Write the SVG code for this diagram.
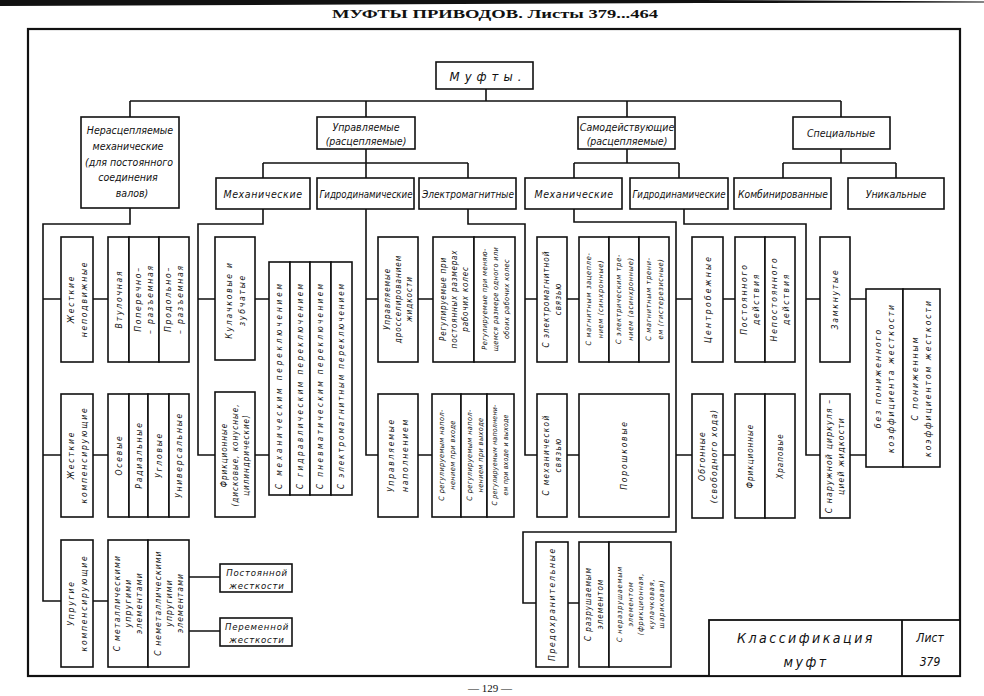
<svg xmlns="http://www.w3.org/2000/svg" width="984" height="696" viewBox="0 0 984 696">
<style>
text{font-family:"DejaVu Sans Condensed","DejaVu Sans",sans-serif;font-stretch:condensed;font-style:italic;fill:#111}
.b{fill:#fff;stroke:#111;stroke-width:1.6}
.c{fill:none;stroke:#111;stroke-width:1.6}
.h{font-size:10.5px;text-anchor:middle;dominant-baseline:central}
.v{font-size:8.5px;letter-spacing:1.8px;text-anchor:middle;dominant-baseline:central}
.v2{font-size:8px;letter-spacing:1px;text-anchor:middle;dominant-baseline:central}
.s{font-size:7.3px;letter-spacing:.4px;text-anchor:middle;dominant-baseline:central}
.hdr{font-family:"Liberation Serif",serif;font-style:normal;font-weight:bold;font-size:13px;text-anchor:middle}
</style>
<rect width="984" height="696" fill="#fff"/>
<polygon points="0,0 700,0 984,1.5 984,2.5 700,3 0,6" fill="#111"/>
<text class="hdr" x="495" y="18" textLength="326" lengthAdjust="spacingAndGlyphs">МУФТЫ  ПРИВОДОВ. Листы 379...464</text>
<rect x="28" y="29" width="932" height="647" fill="none" stroke="#111" stroke-width="2.2"/>
<text class="hdr" x="490" y="692" style="font-weight:normal;font-size:11px">— 129 —</text>

<g id="connectors" class="c">
<path d="M486,89V101M130,101H841M130,101V117M366,101V117M627,101V117M841,101V117"/>
<path d="M366,149V163M263,163H468M263,163V178M366,163V178M468,163V178"/>
<path d="M627,149V163M574,163H679M574,163V178M679,163V178"/>
<path d="M841,149V163M783,163H896M783,163V178M896,163V178"/>
<path d="M130,208V224H43V601H61M43,299H61M43,455H61M93,299H108M93,455H108M93,601H108M189,577H220M189,631H220"/>
<path d="M263,209V224H198V455H215M198,299H215M255,299H269M255,455H269"/>
<path d="M366,209V455H378M366,299H378M418,299H433M418,455H432"/>
<path d="M468,209V224H525V455H537M525,299H537M567,299H579M567,455H579"/>
<path d="M574,209V222H676V532H523V603H536M676,299H692M676,455H692M723,299H735M723,455H735M568,603H579"/>
<path d="M684,209V224H806V455H820M806,299H820M850,299H866M850,455H866"/>
</g>

<g id="n-mufty"><rect class="b" x="436" y="62" width="97" height="27"/><text class="h" x="488" y="76" style="font-size:13px;letter-spacing:5px">Муфты.</text></g>

<g id="n-nerasc"><rect class="b" x="81" y="117" width="98" height="91"/><text class="h"><tspan x="130" y="130">Нерасцепляемые</tspan><tspan x="128" y="146">механические</tspan><tspan x="129" y="162">(для постоянного</tspan><tspan x="128" y="177">соединения</tspan><tspan x="132" y="193">валов)</tspan></text></g>
<g id="n-upr"><rect class="b" x="317" y="117" width="98" height="32"/><text class="h"><tspan x="366" y="127">Управляемые</tspan><tspan x="366" y="141">(расцепляемые)</tspan></text></g>
<g id="n-samod"><rect class="b" x="578" y="117" width="97" height="32"/><text class="h"><tspan x="627" y="127">Самодействующие</tspan><tspan x="627" y="141">(расцепляемые)</tspan></text></g>
<g id="n-spec"><rect class="b" x="793" y="117" width="97" height="32"/><text class="h" x="841" y="133">Специальные</text></g>

<g id="n-upr-mech"><rect class="b" x="216" y="178" width="94" height="31"/><text class="h" x="263" y="193.5" style="letter-spacing:.6px">Механические</text></g>
<g id="n-upr-gidro"><rect class="b" x="317" y="178" width="97" height="31"/><text class="h" x="366" y="193.5" textLength="93" lengthAdjust="spacingAndGlyphs">Гидродинамические</text></g>
<g id="n-upr-elektro"><rect class="b" x="419" y="178" width="97" height="31"/><text class="h" x="468" y="193.5" textLength="92" lengthAdjust="spacingAndGlyphs">Электромагнитные</text></g>
<g id="n-samod-mech"><rect class="b" x="525" y="178" width="97" height="31"/><text class="h" x="574" y="193.5" style="letter-spacing:.6px">Механические</text></g>
<g id="n-samod-gidro"><rect class="b" x="630" y="178" width="98" height="31"/><text class="h" x="679" y="193.5" textLength="93" lengthAdjust="spacingAndGlyphs">Гидродинамические</text></g>
<g id="n-komb"><rect class="b" x="734" y="178" width="97" height="31"/><text class="h" x="783" y="193.5" textLength="90" lengthAdjust="spacingAndGlyphs">Комбинированные</text></g>
<g id="n-unik"><rect class="b" x="848" y="178" width="96" height="31"/><text class="h" x="896" y="193.5">Уникальные</text></g>

<!-- Nerasc subtree -->
<g id="n-zh-nepodv"><rect class="b" x="61" y="237" width="32" height="125"/><text class="v" transform="translate(77,299) rotate(-90)"><tspan x="0" y="-6.5">Жесткие</tspan><tspan x="0" y="6.5">неподвижные</tspan></text></g>
<g id="n-vtul"><rect class="b" x="108" y="237" width="21" height="125"/><text class="v" transform="translate(118.5,299) rotate(-90)">Втулочная</text></g>
<g id="n-poper"><rect class="b" x="129" y="237" width="30" height="125"/><text class="v" transform="translate(144,299) rotate(-90)"><tspan x="0" y="-6">Поперечно–</tspan><tspan x="0" y="6">– разъемная</tspan></text></g>
<g id="n-prodol"><rect class="b" x="159" y="237" width="30" height="125"/><text class="v" transform="translate(174,299) rotate(-90)"><tspan x="0" y="-6">Продольно–</tspan><tspan x="0" y="6">– разъемная</tspan></text></g>

<g id="n-zh-komp"><rect class="b" x="61" y="394" width="32" height="123"/><text class="v" transform="translate(77,455) rotate(-90)"><tspan x="0" y="-6.5">Жесткие</tspan><tspan x="0" y="6.5">компенсирующие</tspan></text></g>
<g id="n-osev"><rect class="b" x="108" y="394" width="21" height="123"/><text class="v" transform="translate(118.5,455) rotate(-90)">Осевые</text></g>
<g id="n-rad"><rect class="b" x="129" y="394" width="19" height="123"/><text class="v" transform="translate(138.5,455) rotate(-90)">Радиальные</text></g>
<g id="n-ugl"><rect class="b" x="148" y="394" width="21" height="123"/><text class="v" transform="translate(158.5,455) rotate(-90)">Угловые</text></g>
<g id="n-univ"><rect class="b" x="169" y="394" width="20" height="123"/><text class="v" transform="translate(179,455) rotate(-90)">Универсальные</text></g>

<g id="n-upr-komp"><rect class="b" x="61" y="540" width="32" height="127"/><text class="v" transform="translate(77,603) rotate(-90)"><tspan x="0" y="-6.5">Упругие</tspan><tspan x="0" y="6.5">компенсирующие</tspan></text></g>
<g id="n-metal"><rect class="b" x="108" y="540" width="40" height="127"/><text class="v" style="letter-spacing:1.3px" transform="translate(128,603) rotate(-90)"><tspan x="0" y="-11">С металлическими</tspan><tspan x="0" y="0">упругими</tspan><tspan x="0" y="11">элементами</tspan></text></g>
<g id="n-nemetal"><rect class="b" x="148" y="540" width="41" height="127"/><text class="v" style="letter-spacing:1.1px" transform="translate(168.5,603) rotate(-90)"><tspan x="0" y="-11">С неметаллическими</tspan><tspan x="0" y="0">упругими</tspan><tspan x="0" y="11">элементами</tspan></text></g>
<g id="n-post-zh"><rect class="b" x="220" y="564" width="72" height="28"/><text class="h" style="font-size:9.5px;letter-spacing:.8px"><tspan x="257" y="572">Постоянной</tspan><tspan x="257" y="585">жесткости</tspan></text></g>
<g id="n-perem-zh"><rect class="b" x="220" y="618" width="72" height="28"/><text class="h" style="font-size:9.5px;letter-spacing:.8px"><tspan x="257" y="626">Переменной</tspan><tspan x="257" y="639">жесткости</tspan></text></g>

<!-- Upr mech -->
<g id="n-kulach"><rect class="b" x="215" y="237" width="40" height="123"/><text class="v" transform="translate(235,300) rotate(-90)"><tspan x="0" y="-6.5">Кулачковые и</tspan><tspan x="0" y="6.5">зубчатые</tspan></text></g>
<g id="n-frikc"><rect class="b" x="215" y="392" width="40" height="125"/><text class="v2" transform="translate(235,455) rotate(-90)"><tspan x="0" y="-11">Фрикционные</tspan><tspan x="0" y="0">(дисковые, конусные,</tspan><tspan x="0" y="11">цилиндрические)</tspan></text></g>
<g id="n-sw-mech"><rect class="b" x="269" y="262" width="21" height="233"/><text class="v2" transform="translate(279.5,386) rotate(-90)" textLength="206" lengthAdjust="spacing">С механическим переключением</text></g>
<g id="n-sw-gidr"><rect class="b" x="290" y="262" width="20" height="233"/><text class="v2" transform="translate(300,386) rotate(-90)" textLength="206" lengthAdjust="spacing">С гидравлическим переключением</text></g>
<g id="n-sw-pnev"><rect class="b" x="310" y="262" width="21" height="233"/><text class="v2" transform="translate(320.5,386) rotate(-90)" textLength="206" lengthAdjust="spacing">С пневматическим переключением</text></g>
<g id="n-sw-em"><rect class="b" x="331" y="262" width="21" height="233"/><text class="v2" transform="translate(341.5,386) rotate(-90)" textLength="206" lengthAdjust="spacing">С электромагнитным переключением</text></g>

<!-- Upr gidro -->
<g id="n-drossel"><rect class="b" x="378" y="237" width="40" height="125"/><text class="v2" transform="translate(398,299) rotate(-90)"><tspan x="0" y="-11">Управляемые</tspan><tspan x="0" y="0">дросселированием</tspan><tspan x="0" y="11">жидкости</tspan></text></g>
<g id="n-reg-post"><rect class="b" x="433" y="237" width="41" height="125"/><text class="v2" style="letter-spacing:.8px" transform="translate(453.5,299) rotate(-90)"><tspan x="0" y="-11">Регулируемые  при</tspan><tspan x="0" y="0">постоянных размерах</tspan><tspan x="0" y="11">рабочих  колес</tspan></text></g>
<g id="n-reg-men"><rect class="b" x="474" y="237" width="41" height="125"/><text class="s" transform="translate(494.5,299) rotate(-90)"><tspan x="0" y="-11">Регулируемые при меняю-</tspan><tspan x="0" y="0">щемся размере одного или</tspan><tspan x="0" y="11">обоих рабочих колес</tspan></text></g>
<g id="n-napoln"><rect class="b" x="378" y="394" width="40" height="123"/><text class="v" transform="translate(398,455) rotate(-90)"><tspan x="0" y="-7">Управляемые</tspan><tspan x="0" y="7">наполнением</tspan></text></g>
<g id="n-nap-vh"><rect class="b" x="432" y="394" width="29" height="123"/><text class="s" transform="translate(446.5,455) rotate(-90)"><tspan x="0" y="-5.5">С регулируемым напол-</tspan><tspan x="0" y="5.5">нением при входе</tspan></text></g>
<g id="n-nap-vyh"><rect class="b" x="461" y="394" width="26" height="123"/><text class="s" transform="translate(474,455) rotate(-90)"><tspan x="0" y="-5.5">С регулируемым напол-</tspan><tspan x="0" y="5.5">нением при выходе</tspan></text></g>
<g id="n-nap-oba"><rect class="b" x="487" y="394" width="27" height="123"/><text class="s" style="font-size:7px;letter-spacing:.2px" transform="translate(500.5,455) rotate(-90)"><tspan x="0" y="-5.5">С регулируемым наполнени-</tspan><tspan x="0" y="5.5">ем при входе и выходе</tspan></text></g>

<!-- Elektro -->
<g id="n-em-svyaz"><rect class="b" x="537" y="237" width="30" height="125"/><text class="v2" transform="translate(552,299) rotate(-90)"><tspan x="0" y="-6">С электромагнитной</tspan><tspan x="0" y="6">связью</tspan></text></g>
<g id="n-sinhr"><rect class="b" x="579" y="237" width="30" height="125"/><text class="s" style="letter-spacing:.7px" transform="translate(594,299) rotate(-90)"><tspan x="0" y="-6">С магнитным зацепле-</tspan><tspan x="0" y="6">нием (синхронные)</tspan></text></g>
<g id="n-asinhr"><rect class="b" x="609" y="237" width="30" height="125"/><text class="s" style="letter-spacing:.7px" transform="translate(624,299) rotate(-90)"><tspan x="0" y="-6">С электрическим тре-</tspan><tspan x="0" y="6">нием (асинхронные)</tspan></text></g>
<g id="n-gister"><rect class="b" x="639" y="237" width="30" height="125"/><text class="s" style="letter-spacing:.7px" transform="translate(654,299) rotate(-90)"><tspan x="0" y="-6">С магнитным трени-</tspan><tspan x="0" y="6">ем (гистерезисные)</tspan></text></g>
<g id="n-meh-svyaz"><rect class="b" x="537" y="394" width="30" height="123"/><text class="v2" style="letter-spacing:1.4px" transform="translate(552,455) rotate(-90)"><tspan x="0" y="-6">С механической</tspan><tspan x="0" y="6">связью</tspan></text></g>
<g id="n-poroshk"><rect class="b" x="579" y="394" width="90" height="123"/><text class="v" transform="translate(624,455) rotate(-90)">Порошковые</text></g>

<!-- Samod mech -->
<g id="n-centrob"><rect class="b" x="692" y="237" width="31" height="125"/><text class="v" style="letter-spacing:2.2px" transform="translate(707.5,299) rotate(-90)">Центробежные</text></g>
<g id="n-post-d"><rect class="b" x="735" y="237" width="30" height="125"/><text class="v" transform="translate(750,299) rotate(-90)"><tspan x="0" y="-6">Постоянного</tspan><tspan x="0" y="6">действия</tspan></text></g>
<g id="n-nepost-d"><rect class="b" x="765" y="237" width="30" height="125"/><text class="v" transform="translate(780,299) rotate(-90)"><tspan x="0" y="-6">Непостоянного</tspan><tspan x="0" y="6">действия</tspan></text></g>
<g id="n-obgon"><rect class="b" x="692" y="394" width="31" height="124"/><text class="v" style="letter-spacing:1.2px" transform="translate(707.5,456) rotate(-90)"><tspan x="0" y="-6">Обгонные</tspan><tspan x="0" y="6">(свободного хода)</tspan></text></g>
<g id="n-frikc2"><rect class="b" x="735" y="394" width="30" height="124"/><text class="v2" transform="translate(750,456) rotate(-90)">Фрикционные</text></g>
<g id="n-hrap"><rect class="b" x="765" y="394" width="30" height="124"/><text class="v2" transform="translate(780,456) rotate(-90)">Храповые</text></g>
<g id="n-predohr"><rect class="b" x="536" y="542" width="32" height="125"/><text class="v" transform="translate(552,604) rotate(-90)">Предохранительные</text></g>
<g id="n-razr"><rect class="b" x="579" y="542" width="30" height="125"/><text class="v2" transform="translate(594,604) rotate(-90)"><tspan x="0" y="-6">С разрушаемым</tspan><tspan x="0" y="6">элементом</tspan></text></g>
<g id="n-nerazr"><rect class="b" x="609" y="542" width="62" height="125"/><text class="s" style="letter-spacing:.8px" transform="translate(640,604) rotate(-90)"><tspan x="0" y="-21">С неразрушаемым</tspan><tspan x="0" y="-10.5">элементом</tspan><tspan x="0" y="0">(фрикционная,</tspan><tspan x="0" y="10.5">кулачковая,</tspan><tspan x="0" y="21">шариковая)</tspan></text></g>

<!-- Samod gidro -->
<g id="n-zamkn"><rect class="b" x="820" y="237" width="30" height="125"/><text class="v" transform="translate(835,299) rotate(-90)">Замкнутые</text></g>
<g id="n-bez-pon"><rect class="b" x="866" y="289" width="37" height="178"/><text class="v" style="letter-spacing:2px" transform="translate(884.5,378) rotate(-90)"><tspan x="0" y="-6.5">без пониженного</tspan><tspan x="0" y="6.5">коэффициента жесткости</tspan></text></g>
<g id="n-s-pon"><rect class="b" x="903" y="289" width="37" height="178"/><text class="v" style="letter-spacing:2px" transform="translate(921.5,378) rotate(-90)"><tspan x="0" y="-6.5">С пониженным</tspan><tspan x="0" y="6.5">коэффициентом жесткости</tspan></text></g>
<g id="n-narug"><rect class="b" x="820" y="394" width="30" height="124"/><text class="v" style="letter-spacing:1.2px" transform="translate(835,456) rotate(-90)"><tspan x="0" y="-6">С наружной циркуля –</tspan><tspan x="0" y="6">цией жидкости</tspan></text></g>

<g id="title-block">
<rect x="709" y="620" width="251" height="56" fill="#fff" stroke="#111" stroke-width="1.8"/>
<path d="M902,620V676" stroke="#111" stroke-width="1.8"/>
<text class="h" style="font-size:14px;letter-spacing:2.5px"><tspan x="806" y="638">Классификация</tspan><tspan x="806" y="662">муфт</tspan></text>
<text class="h" style="font-size:12px"><tspan x="930" y="638">Лист</tspan><tspan x="930" y="662">379</tspan></text>
</g>
</svg>
